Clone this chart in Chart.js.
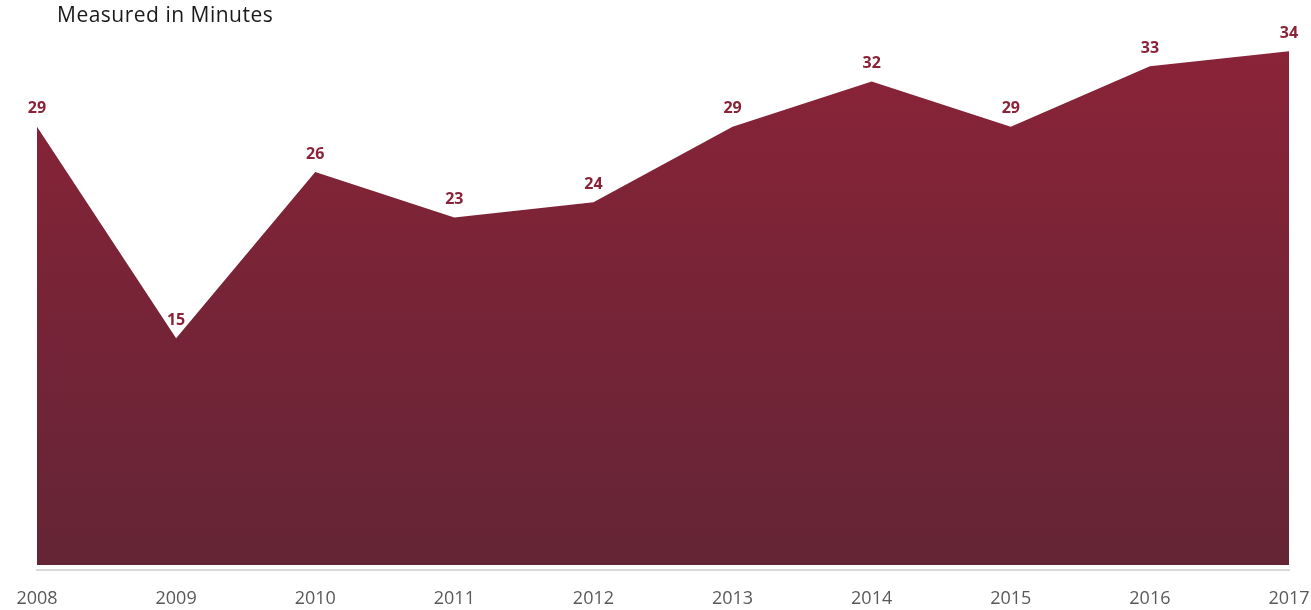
<!DOCTYPE html>
<html>
<head>
<meta charset="utf-8">
<script src="https://cdn.jsdelivr.net/npm/chart.js@4"></script>
<style>
  html, body { margin: 0; padding: 0; background: #ffffff; }
  #wrap { position: relative; width: 1311px; height: 610px; }
</style>
</head>
<body>
<div id="wrap"><canvas id="minutesChart" width="1311" height="610"></canvas></div>
<script>
// data
const years = ['2008', '2009', '2010', '2011', '2012', '2013', '2014', '2015', '2016', '2017'];
const minutes = [29, 15, 26, 23, 24, 29, 32, 29, 33, 34];
const chartTitle = 'Measured in Minutes';

// vertical gradient for the filled area
function areaGradient(context) {
    const chart = context.chart;
    const area = chart.chartArea;
    if (!area) {
        return '#7a2437';
    }
    const g = chart.ctx.createLinearGradient(0, area.top, 0, area.bottom);
    g.addColorStop(0, '#8c2338');
    g.addColorStop(1, '#632535');
    return g;
}

// value labels above each point
const valueLabels = {
    id: 'valueLabels',
    afterDatasetsDraw(chart) {
        const ctx = chart.ctx;
        const meta = chart.getDatasetMeta(0);
        ctx.save();
        ctx.font = 'bold 16px "Open Sans"';
        ctx.fillStyle = '#8b2338';
        ctx.textAlign = 'center';
        ctx.textBaseline = 'middle';
        meta.data.forEach(function(pt, i) {
            ctx.fillText(String(minutes[i]), pt.x, pt.y - 18);
        });
        ctx.restore();
    }
};

// subtitle in the top-left corner
const titleText = {
    id: 'titleText',
    afterDraw(chart) {
        const ctx = chart.ctx;
        ctx.save();
        ctx.font = '21px "Open Sans"';
        ctx.letterSpacing = '0.5px';
        ctx.fillStyle = '#1a1a1a';
        ctx.textAlign = 'left';
        ctx.textBaseline = 'alphabetic';
        ctx.fillText(chartTitle, 57, 22);
        ctx.restore();
    }
};

const ctx = document.getElementById('minutesChart').getContext('2d');
new Chart(ctx, {
    type: 'line',
    data: {
        labels: years,
        datasets: [{
            label: 'Minutes',
            data: minutes,
            fill: 'origin',
            backgroundColor: areaGradient,
            borderWidth: 0,
            borderColor: 'rgba(0,0,0,0)',
            pointRadius: 0,
            tension: 0
        }]
    },
    options: {
        responsive: false,
        animation: false,
        layout: {
            padding: { left: 37, right: 22, top: 21, bottom: -10 }
        },
        scales: {
            x: {
                offset: false,
                grid: { display: false },
                border: { display: true, color: '#d9d9d9', width: 2 },
                ticks: {
                    color: '#595959',
                    font: { family: '"Open Sans"', size: 18 },
                    padding: 10,
                    maxRotation: 0,
                    autoSkip: false
                },
                // let the layout padding alone decide the side margins
                afterFit: function(scale) {
                    scale.paddingLeft = 0;
                    scale.paddingRight = 0;
                }
            },
            y: {
                display: false,
                min: -0.36,
                max: 36
            }
        },
        plugins: {
            legend: { display: false },
            tooltip: { enabled: false }
        }
    },
    plugins: [valueLabels, titleText]
});
</script>
</body>
</html>
